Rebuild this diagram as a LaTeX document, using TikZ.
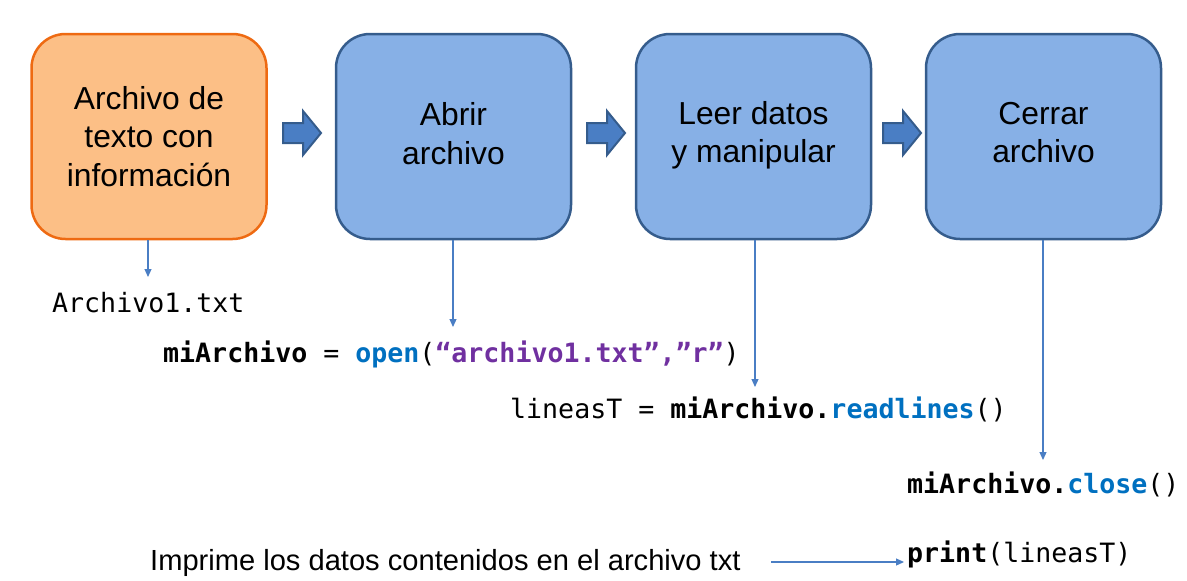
\documentclass[tikz,border=0pt]{standalone}
\usepackage{fontspec}
\setmainfont{Liberation Sans}
\setmonofont{DejaVu Sans Mono}
\usetikzlibrary{arrows.meta}
\definecolor{orfill}{HTML}{FCBF86}
\definecolor{ordraw}{HTML}{EE6A12}
\definecolor{blfill}{HTML}{87B0E6}
\definecolor{bldraw}{HTML}{355C8C}
\definecolor{arfill}{HTML}{4A7EC4}
\definecolor{connc}{HTML}{4A7EC4}
\definecolor{kwblue}{HTML}{0070C0}
\definecolor{strpur}{HTML}{7030A0}
\begin{document}
\begin{tikzpicture}[x=1pt,y=-1pt,
  box/.style={rounded corners=34pt, minimum width=235pt, minimum height=205pt,
    line width=2.5pt, inner sep=0pt},
  boxtext/.style={align=center, inner sep=0pt, font=\fontsize{31.8}{38.5}\selectfont},
  orbox/.style={box, draw=ordraw, fill=orfill},
  blbox/.style={box, draw=bldraw, fill=blfill},
  code/.style={anchor=base west, inner sep=0pt, font=\ttfamily\fontsize{26.6}{30}\selectfont},
  conn/.style={draw=connc, line width=1.2pt, -{Triangle[length=8pt,width=7pt]}},
  barrow/.pic={\draw[line width=2pt, draw=bldraw, fill=arfill, line join=miter]
     (0,-10) -- (20,-10) -- (20,-22) -- (38,0) -- (20,22) -- (20,10) -- (0,10) -- cycle;}
]
\useasboundingbox (0,0) rectangle (1187,581);

\node[orbox] (src) at (149,136.5) {};
\node[blbox] (open) at (453.5,136.5) {};
\node[blbox] (read) at (753.5,136.5) {};
\node[blbox] (close) at (1043.5,136.5) {};
\node[boxtext] (srct) at ([yshift=0pt]src.center) {Archivo de\\texto con\\información};
\node[boxtext] (opent) at ([yshift=3pt]open.center) {Abrir\\archivo};
\node[boxtext] (readt) at ([yshift=1pt]read.center) {Leer datos\\y manipular};
\node[boxtext] (closet) at ([yshift=4pt]close.center) {Cerrar\\archivo};

\pic at (283,133) {barrow};
\pic at (587,133) {barrow};
\pic at (883,133) {barrow};

\node[code] (fname) at (52,312) {Archivo1.txt};
\node[code] (c1) at (163,362) {\textbf{miArchivo} = \textcolor{kwblue}{\textbf{open}}(\textcolor{strpur}{\textbf{“archivo1.txt”,”r”}})};
\node[code] (c2) at (510,418) {lineasT = \textbf{miArchivo.}\textcolor{kwblue}{\textbf{readlines}}()};
\node[code] (c3) at (907,493) {\textbf{miArchivo.}\textcolor{kwblue}{\textbf{close}}()};
\node[code] (c4) at (907,562) {\textbf{print}(lineasT)};
\node[anchor=base west, inner sep=0pt, font=\fontsize{29.1}{32}\selectfont] (imp) at (150,570) {Imprime los datos contenidos en el archivo txt};

\coordinate (e0) at (148,277);
\coordinate (e1) at (453,327);
\coordinate (e2) at (755,387);
\coordinate (e3) at (1043,460);
\coordinate (ps) at (771,562);
\draw[conn] (src.south -| e0) -- (e0);
\draw[conn] (open.south -| e1) -- (e1);
\draw[conn] (read.south -| e2) -- (e2);
\draw[conn] (close.south -| e3) -- (e3);
\draw[conn] (ps) -- ([xshift=-3pt]c4.west |- ps);
\end{tikzpicture}
\end{document}
